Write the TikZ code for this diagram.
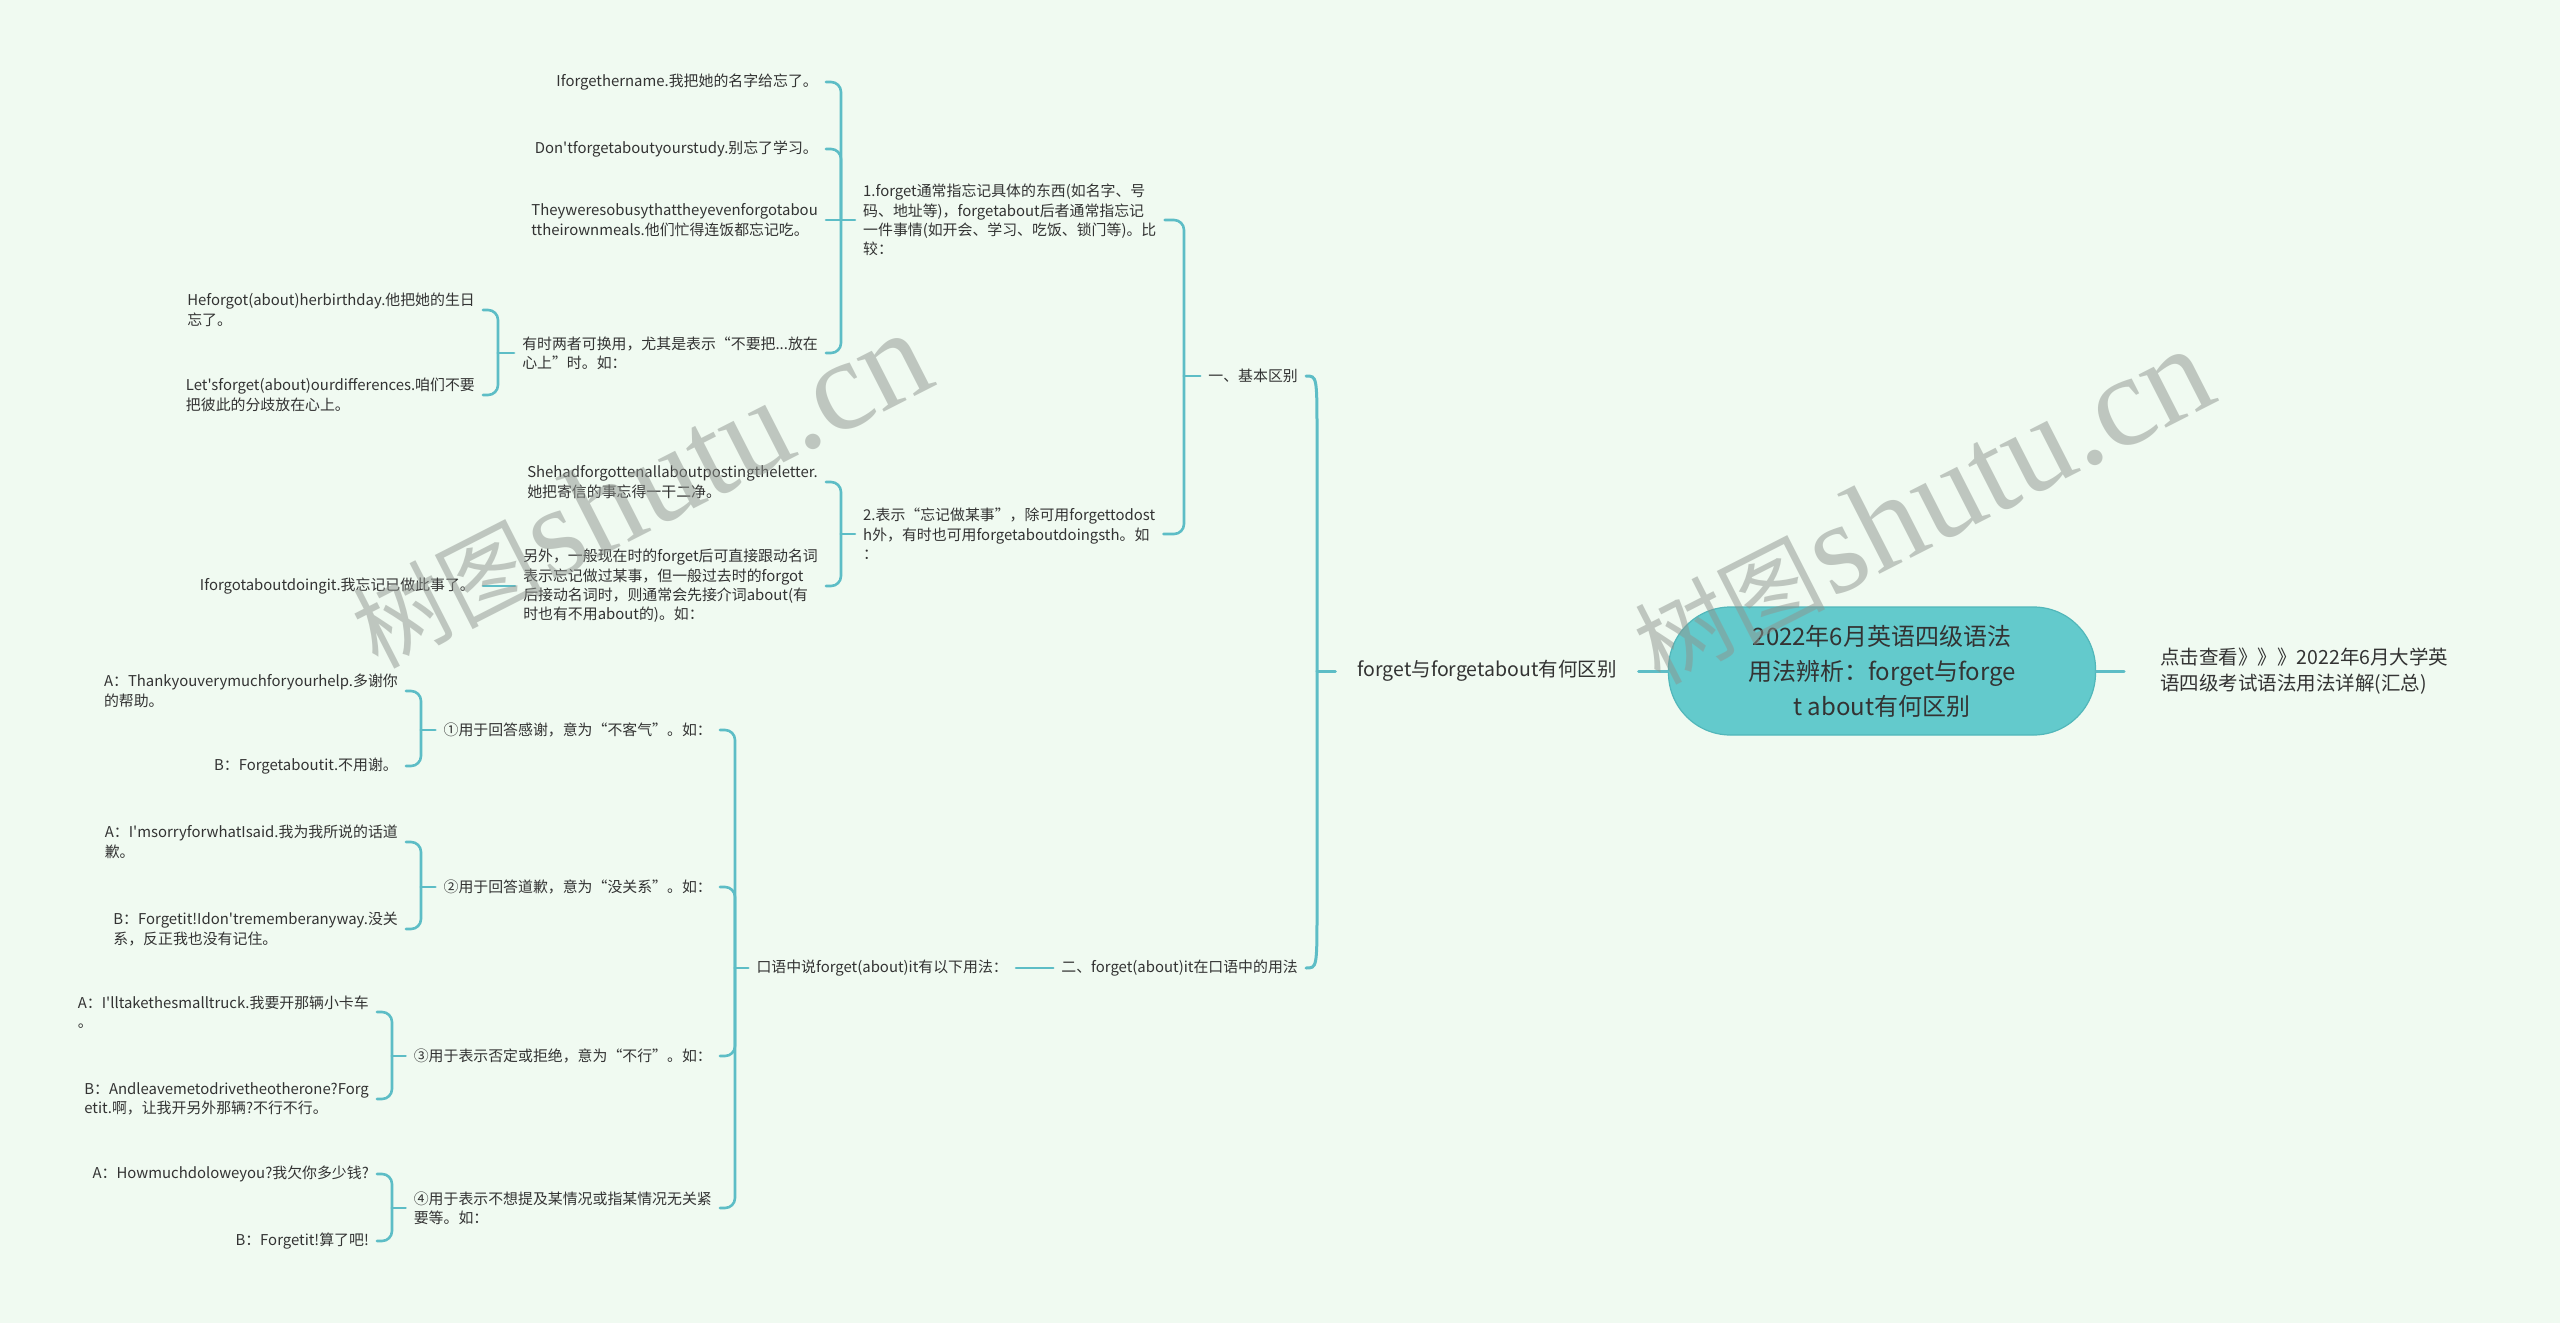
\documentclass[tikz,border=0pt]{standalone}
\usepackage{fontspec}
\newfontfamily\cjk{Noto Sans CJK SC}
\newfontfamily\wmserif{Liberation Serif}
\usetikzlibrary{calc}
\definecolor{bgc}{HTML}{F0FAF1}
\definecolor{lnc}{HTML}{5DBDC6}
\definecolor{rootfill}{HTML}{63CACC}
\definecolor{rootdraw}{HTML}{52B7BA}
\definecolor{txt}{HTML}{333333}
\definecolor{wmc}{HTML}{8E948E}
\begin{document}
\begin{tikzpicture}[x=1pt,y=-1pt,
 every node/.style={text=txt},
 leaf/.style={font=\cjk\fontsize{14.9}{19.4}\selectfont, align=left, inner xsep=8pt, inner ysep=3pt},
 lnode/.style={leaf, anchor=east},
 rnode/.style={leaf, anchor=west},
 big/.style={font=\cjk\fontsize{19.5}{26}\selectfont, align=left, inner ysep=3pt},
 conn/.style={draw=lnc, line width=2.6pt, rounded corners=10pt, line cap=round},
 mainconn/.style={draw=lnc, line width=3pt, line cap=round},
 wm/.style={rotate=27, text=wmc, text opacity=0.5}
]
\fill[bgc] (0,0) rectangle (2560,1323);
\useasboundingbox (0,0) rectangle (2560,1323);

% root and level 1
\node[draw=rootdraw, fill=rootfill, line width=1.2pt, rounded corners=62pt, minimum width=427pt, minimum height=128pt, align=center, font=\cjk\fontsize{24}{35}\selectfont] (root) at (1882,671) {2022年6月英语四级语法\\用法辨析：forget与forge\\t about有何区别};
\node[big, inner xsep=22pt] (L1) at (1487,671) {forget与forgetabout有何区别};
\node[big, anchor=west, inner xsep=36pt] (R1) at (2124,671) {点击查看》》》2022年6月大学英\\语四级考试语法用法详解(汇总)};
\draw[mainconn] (root.west) -- (L1.east);
\draw[mainconn] (root.east) -- (R1.west);

% level 2
\node[lnode] (K1) at (1306,376) {一、基本区别};
\node[lnode] (E) at (1306,968) {二、forget(about)it在口语中的用法};
\coordinate (sL1) at (1317,671);
\draw[mainconn] (L1.west) -- (sL1);
\draw[mainconn] (sL1) -- ($(K1.east)+(11,60)$) .. controls ($(K1.east)+(11,0)$) .. (K1.east);
\draw[mainconn] (sL1) -- ($(E.east)+(11,-60)$) .. controls ($(E.east)+(11,0)$) .. (E.east);

% branch one
\node[rnode] (N1) at (855,220) {1.forget通常指忘记具体的东西(如名字、号\\码、地址等)，forgetabout后者通常指忘记\\一件事情(如开会、学习、吃饭、锁门等)。比\\较：};
\node[rnode] (N2) at (855,534) {2.表示“忘记做某事”，除可用forgettodost\\h外，有时也可用forgetaboutdoingsth。如\\：};
\coordinate (sK1) at (1184,376);
\draw[conn] (K1.west) -- (sK1);
\draw[conn] (sK1) |- (N1.east);
\draw[conn] (sK1) |- (N2.east);

\node[lnode] (A1) at (826,82) {Iforgethername.我把她的名字给忘了。};
\node[lnode] (A2) at (826,149) {Don'tforgetaboutyourstudy.别忘了学习。};
\node[lnode] (A3) at (826,220) {Theyweresobusythattheyevenforgotabou\\ttheirownmeals.他们忙得连饭都忘记吃。};
\node[lnode] (A4) at (826,353) {有时两者可换用，尤其是表示“不要把...放在\\心上”时。如：};
\coordinate (sN1) at (841,220);
\draw[conn] (N1.west) -- (sN1);
\draw[conn] (sN1) |- (A1.east);
\draw[conn] (sN1) |- (A2.east);
\draw[conn] (sN1) -- (A3.east);
\draw[conn] (sN1) |- (A4.east);

\node[lnode] (B1) at (483,310) {Heforgot(about)herbirthday.他把她的生日\\忘了。};
\node[lnode] (B2) at (483,395) {Let'sforget(about)ourdifferences.咱们不要\\把彼此的分歧放在心上。};
\coordinate (sA4) at (498,353);
\draw[conn] (A4.west) -- (sA4);
\draw[conn] (sA4) |- (B1.east);
\draw[conn] (sA4) |- (B2.east);

\node[lnode] (C1) at (826,482) {Shehadforgottenallaboutpostingtheletter.\\她把寄信的事忘得一干二净。};
\node[lnode] (C2) at (826,586) {另外，一般现在时的forget后可直接跟动名词\\表示忘记做过某事，但一般过去时的forgot\\后接动名词时，则通常会先接介词about(有\\时也有不用about的)。如：};
\coordinate (sN2) at (841,534);
\draw[conn] (N2.west) -- (sN2);
\draw[conn] (sN2) |- (C1.east);
\draw[conn] (sN2) |- (C2.east);

\node[lnode] (D1) at (483,586) {Iforgotaboutdoingit.我忘记已做此事了。};
\draw[conn] (C2.west) -- (D1.east);

% branch two
\node[lnode] (F) at (1016,968) {口语中说forget(about)it有以下用法：};
\draw[conn] (E.west) -- (F.east);

\node[lnode] (G1) at (720,730) {①用于回答感谢，意为“不客气”。如：};
\node[lnode] (G2) at (720,887) {②用于回答道歉，意为“没关系”。如：};
\node[lnode] (G3) at (720,1056) {③用于表示否定或拒绝，意为“不行”。如：};
\node[lnode] (G4) at (720,1208) {④用于表示不想提及某情况或指某情况无关紧\\要等。如：};
\coordinate (sF) at (735,968);
\draw[conn] (F.west) -- (sF);
\draw[conn] (sF) |- (G1.east);
\draw[conn] (sF) |- (G2.east);
\draw[conn] (sF) |- (G3.east);
\draw[conn] (sF) |- (G4.east);

\node[lnode] (H1) at (406,691) {A：Thankyouverymuchforyourhelp.多谢你\\的帮助。};
\node[lnode] (H2) at (406,766) {B：Forgetaboutit.不用谢。};
\coordinate (sG1) at (421,730);
\draw[conn] (G1.west) -- (sG1);
\draw[conn] (sG1) |- (H1.east);
\draw[conn] (sG1) |- (H2.east);

\node[lnode] (H3) at (406,842) {A：I'msorryforwhatIsaid.我为我所说的话道\\歉。};
\node[lnode] (H4) at (406,929) {B：Forgetit!Idon'trememberanyway.没关\\系，反正我也没有记住。};
\coordinate (sG2) at (421,887);
\draw[conn] (G2.west) -- (sG2);
\draw[conn] (sG2) |- (H3.east);
\draw[conn] (sG2) |- (H4.east);

\node[lnode] (H5) at (377,1012) {A：I'lltakethesmalltruck.我要开那辆小卡车\\。};
\node[lnode] (H6) at (377,1099) {B：Andleavemetodrivetheotherone?Forg\\etit.啊，让我开另外那辆?不行不行。};
\coordinate (sG3) at (392,1056);
\draw[conn] (G3.west) -- (sG3);
\draw[conn] (sG3) |- (H5.east);
\draw[conn] (sG3) |- (H6.east);

\node[lnode] (H7) at (377,1174) {A：Howmuchdoloweyou?我欠你多少钱?};
\node[lnode] (H8) at (377,1241) {B：Forgetit!算了吧!};
\coordinate (sG4) at (392,1208);
\draw[conn] (G4.west) -- (sG4);
\draw[conn] (sG4) |- (H7.east);
\draw[conn] (sG4) |- (H8.east);

% watermarks
\node[wm] (wm1) at (640,490) {{\cjk\fontsize{95}{95}\selectfont 树图} {\wmserif\fontsize{130}{130}\selectfont shutu.cn}};
\node[wm] (wm2) at (1922,506) {{\cjk\fontsize{95}{95}\selectfont 树图} {\wmserif\fontsize{130}{130}\selectfont shutu.cn}};
\end{tikzpicture}
\end{document}
